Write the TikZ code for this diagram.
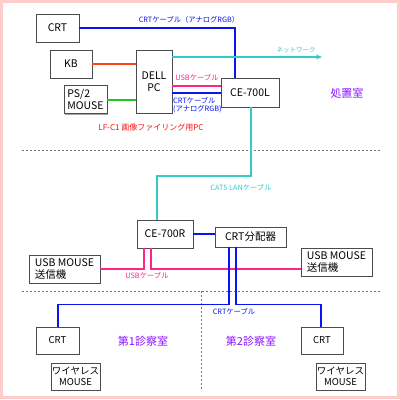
\documentclass[tikz,border=0pt]{standalone}
\usepackage{fontspec}
\setmainfont{Noto Sans CJK JP}
\usetikzlibrary{arrows.meta,shadows}
\definecolor{cblue}{HTML}{0A14F0}
\definecolor{ccyan}{HTML}{33CCCC}
\definecolor{cpink}{HTML}{FF2288}
\definecolor{corange}{HTML}{FF4411}
\definecolor{mousegreen}{RGB}{30,200,30}
\definecolor{cpurple}{HTML}{8811FF}
\definecolor{cred}{HTML}{FF1111}
\definecolor{cframe}{HTML}{FFCCCC}
\begin{document}
\begin{tikzpicture}[x=1pt,y=-1pt,
  box/.style={draw=black!70,line width=0.9pt,fill=white,inner sep=0pt,
    drop shadow={shadow xshift=1pt,shadow yshift=-1pt,fill=black!35,opacity=1},
    font=\fontsize{10.5}{11.5}\selectfont},
  sbox/.style={box,font=\fontsize{9.5}{10.5}\selectfont},
  lbl/.style={inner sep=0pt,font=\fontsize{7.3}{8.3}\selectfont},
  room/.style={inner sep=0pt,text=cpurple,font=\fontsize{11}{12}\selectfont},
  wire/.style={line width=1.4pt},
  sep/.style={draw=black!55,line width=0.8pt,dash pattern=on 2pt off 2pt}]
\useasboundingbox (0,0) rectangle (400,400);
\fill[white] (0,0) rectangle (400,400);
\draw[cframe,line width=3pt] (1.5,1.5) rectangle (398,397.5);

% separators
\draw[sep] (22,150) -- (380,150);
\draw[sep] (22,291) -- (380,291);
\draw[sep] (201,291) -- (201,391);

% nodes
\node[box,minimum width=43pt,minimum height=28pt] (crt1) at (57.5,28) {CRT};
\node[box,minimum width=42pt,minimum height=28pt] (kb) at (71,64) {KB};
\node[box,minimum width=43pt,minimum height=28pt,align=left] (ps2) at (85.5,99.5) {PS/2\\MOUSE};
\node[box,minimum width=36pt,minimum height=63pt,align=center] (dell) at (154,81.5) {DELL\\PC};
\node[box,minimum width=58pt,minimum height=29pt] (ce7l) at (250,92.5) {CE-700L};
\node[box,minimum width=56pt,minimum height=28pt] (ce7r) at (165,234) {CE-700R};
\node[box,minimum width=71pt,minimum height=20pt] (crtdiv) at (250.5,237) {CRT分配器};
\node[box,minimum width=71pt,minimum height=28pt,align=left] (usbl) at (64.5,269) {USB MOUSE\\送信機};
\node[box,minimum width=71pt,minimum height=28pt,align=left] (usbr) at (336.5,262) {USB MOUSE\\送信機};
\node[sbox,minimum width=43pt,minimum height=27pt] (crt2) at (57.5,340.5) {CRT};
\node[sbox,minimum width=49pt,minimum height=27pt,align=center] (wm1) at (75.5,376.5) {ワイヤレス\\MOUSE};
\node[sbox,minimum width=42pt,minimum height=27pt] (crt3) at (322,340.5) {CRT};
\node[sbox,minimum width=49pt,minimum height=27pt,align=center] (wm2) at (340.5,376.5) {ワイヤレス\\MOUSE};

% helper coordinates
\coordinate (netend) at (322,57);
\coordinate (usby) at (0,86);
\coordinate (crty) at (0,93);
\coordinate (lany) at (0,176);
\coordinate (usb2y) at (0,269);
\coordinate (mousey) at (0,100);

% connectors
\draw[wire,cblue] (crt1.east) -| ([xshift=-15pt]ce7l.north);
\draw[wire,corange] (kb.east) -- (kb.east -| dell.west);
\draw[wire,draw=mousegreen] (ps2.east |- mousey) -- (dell.west |- mousey);
\draw[wire,ccyan,-{Stealth[length=6pt,width=5pt]}] (dell.east |- netend) -- (netend);
\draw[wire,cpink] (dell.east |- usby) -- (ce7l.west |- usby);
\draw[wire,cblue] (dell.east |- crty) -- (ce7l.west |- crty);
\draw[wire,ccyan] ([xshift=1pt]ce7l.south) -- ([xshift=1pt]ce7l.south |- lany) -| ([xshift=-8pt]ce7r.north);
\draw[wire,cblue] (ce7r.east) -- (ce7r.east -| crtdiv.west);
\draw[wire,cpink] ([xshift=-21pt]ce7r.south) |- (usbl.east);
\draw[wire,cpink] ([xshift=-14pt]ce7r.south) |- (usbr.west |- usb2y);
\draw[wire,cblue] ([xshift=-21.5pt]crtdiv.south) -- ++(0,57) -| ([xshift=0.5pt]crt2.north);
\draw[wire,cblue] ([xshift=-14.5pt]crtdiv.south) -- ++(0,57) -| ([xshift=-1pt]crt3.north);

% labels
\node[lbl,text=cblue] (l1) at (189,20) {CRTケーブル（アナログRGB）};
\node[lbl,text=ccyan,font=\fontsize{6.5}{7.5}\selectfont] (l2) at (296,50) {ネットワーク};
\node[lbl,text=cpink] (l3) at (197,78) {USBケーブル};
\node[lbl,text=cblue,align=left,anchor=west] (l4) at (173,105) {CRTケーブル\\(アナログRGB)};
\node[lbl,text=cred,font=\fontsize{8}{9}\selectfont] (l5) at (151,127) {LF-C1 画像ファイリング用PC};
\node[room] (r0) at (347,93) {処置室};
\node[lbl,text=ccyan] (l6) at (241,188) {CAT5 LANケーブル};
\node[lbl,text=cpink] (l7) at (147,276) {USBケーブル};
\node[lbl,text=cblue] (l8) at (234,312) {CRTケーブル};
\node[room] (r1) at (143,341) {第1診察室};
\node[room] (r2) at (251,341) {第2診察室};
\end{tikzpicture}
\end{document}
